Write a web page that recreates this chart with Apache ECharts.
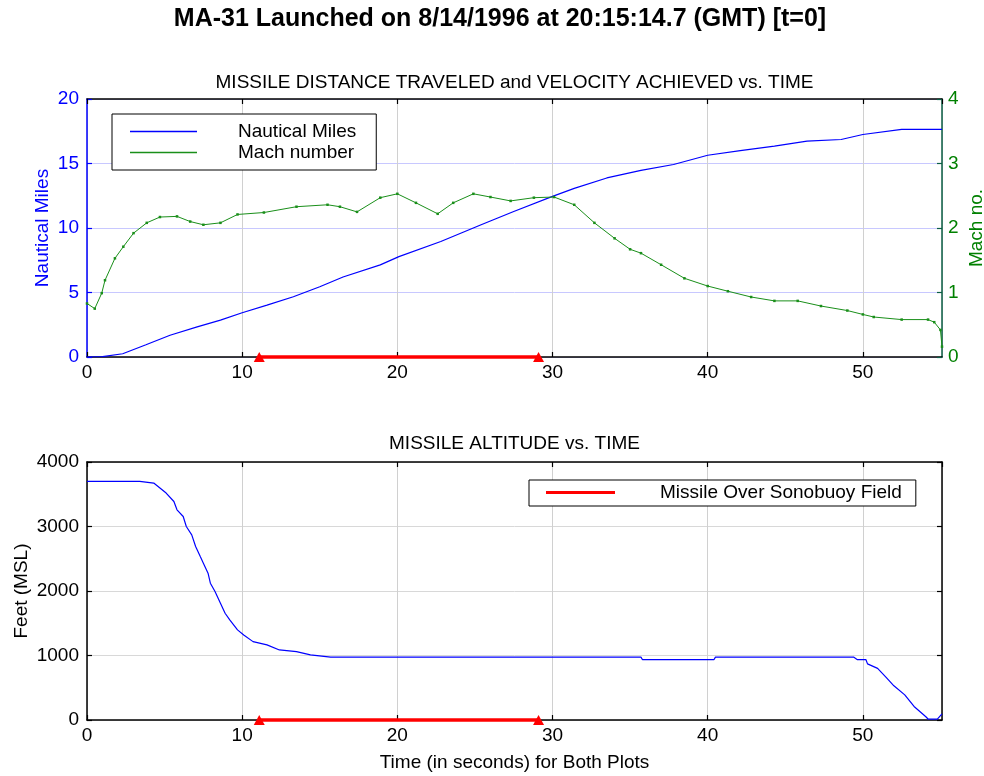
<!DOCTYPE html>
<html>
<head>
<meta charset="utf-8">
<script src="https://cdn.jsdelivr.net/npm/echarts@6/dist/echarts.min.js"></script>
<style>
html,body{margin:0;padding:0;background:#fff;}
#chart{width:984px;height:776px;}
</style>
</head>
<body>
<div id="chart"></div>
<script>
// ---- DATA ----
const mainTitle = 'MA-31 Launched on 8/14/1996 at 20:15:14.7 (GMT) [t=0]';
const topTitle = 'MISSILE DISTANCE TRAVELED and VELOCITY ACHIEVED vs. TIME';
const bottomTitle = 'MISSILE ALTITUDE vs. TIME';

const timeNm = [0, 1.0, 2.3, 3.8, 5.35, 7.1, 8.6, 10.0, 11.6, 13.3, 15.0, 16.5, 18.9, 20.1, 22.8, 25.4, 27.5, 30.0, 31.4, 33.5, 35.7, 37.8, 40.0, 42.1, 44.3, 46.4, 48.6, 50.0, 52.5, 55.1];
const nauticalMiles = [0, 0.03, 0.25, 0.95, 1.69, 2.34, 2.86, 3.43, 4.02, 4.67, 5.45, 6.2, 7.14, 7.78, 8.95, 10.25, 11.28, 12.45, 13.07, 13.88, 14.47, 14.92, 15.64, 16.0, 16.34, 16.73, 16.86, 17.25, 17.64, 17.64];

const timeMach = [0, 0.5, 0.95, 1.16, 1.8, 2.34, 3.0, 3.85, 4.7, 5.8, 6.65, 7.5, 8.6, 9.7, 11.4, 13.5, 15.5, 16.3, 17.4, 18.9, 20.0, 21.2, 22.6, 23.6, 24.9, 26.0, 27.3, 28.8, 30.1, 31.4, 32.7, 34.0, 35.0, 35.7, 37.0, 38.5, 40.0, 41.3, 42.8, 44.3, 45.8, 47.3, 49.0, 50.0, 50.7, 52.5, 54.2, 54.6, 55.0, 55.1];
const machNumber = [0.83, 0.75, 0.99, 1.19, 1.53, 1.71, 1.92, 2.08, 2.17, 2.18, 2.10, 2.05, 2.08, 2.21, 2.24, 2.33, 2.36, 2.33, 2.25, 2.47, 2.53, 2.39, 2.22, 2.39, 2.53, 2.48, 2.42, 2.47, 2.48, 2.36, 2.08, 1.84, 1.67, 1.61, 1.43, 1.22, 1.10, 1.02, 0.93, 0.87, 0.87, 0.79, 0.72, 0.66, 0.62, 0.58, 0.58, 0.54, 0.42, 0.16];

const timeAlt = [0, 3.4, 3.5, 4.3, 4.7, 5.1, 5.6, 5.8, 6.2, 6.4, 6.75, 7.0, 7.3, 7.5, 7.8, 7.95, 8.25, 8.6, 8.9, 9.2, 9.7, 10.1, 10.7, 11.6, 12.4, 13.5, 14.4, 15.7, 35.7, 35.8, 40.4, 40.5, 49.4, 49.65, 50.2, 50.3, 50.95, 51.5, 52.0, 52.7, 53.3, 54.06, 54.2, 54.8, 55.1];
const altitudeFt = [3700, 3700, 3673, 3673, 3596, 3518, 3388, 3259, 3155, 3000, 2871, 2690, 2534, 2431, 2276, 2121, 1991, 1811, 1655, 1552, 1397, 1319, 1215, 1164, 1086, 1060, 1009, 975, 975, 935, 935, 975, 975, 935, 935, 870, 800, 660, 530, 390, 210, 50, 15, 15, 95];

const sonobuoyTime = [11.1, 29.1];
const sonobuoyLevel = [0, 0];

const xTicks = {min: 0, max: 55.1, interval: 10};
const nmTicks = {min: 0, max: 20, interval: 5};
const machTicks = {min: 0, max: 4, interval: 1};
const altTicks = {min: 0, max: 4000, interval: 1000};

// ---- CHART ----
const FONT = '"Liberation Sans", Arial, Helvetica, sans-serif';
const pairs = (xs, ys) => xs.map((x, i) => [x, ys[i]]);
const plain = v => String(v);
const BLUE = '#0000ff', GREEN = '#1a8f1a', GREEN_TXT = '#008000', RED = '#ff0000';

function xAxisBottom(grid, extra) {
  return Object.assign({
    gridIndex: grid, type: 'value', position: 'bottom',
    min: xTicks.min, max: xTicks.max, interval: xTicks.interval,
    axisLine: {onZero: false, lineStyle: {color: '#000', width: 1.5}},
    axisTick: {inside: true, length: 5, lineStyle: {color: '#000', width: 1.2}},
    axisLabel: {color: '#000', fontSize: 19, fontFamily: FONT, margin: 6, showMaxLabel: false, formatter: plain},
    splitLine: {show: true, lineStyle: {color: '#d0d0d0', width: 1}}
  }, extra || {});
}
function xAxisTop(grid) {
  return {
    gridIndex: grid, type: 'value', position: 'top',
    min: xTicks.min, max: xTicks.max, interval: xTicks.interval,
    axisLine: {onZero: false, lineStyle: {color: '#000', width: 1.5}},
    axisTick: {inside: true, length: 5, lineStyle: {color: '#000', width: 1.2}},
    axisLabel: {show: false}, splitLine: {show: false}
  };
}

const option = {
  animation: false,
  backgroundColor: '#fff',
  graphic: [
    {type: 'text', x: 500, y: 19, style: {text: mainTitle, fontSize: 25, fontWeight: 'bold', fontFamily: FONT, fill: '#000', align: 'center', verticalAlign: 'middle'}},
    {type: 'text', x: 514.5, y: 82.5, style: {text: topTitle, fontSize: 19, fontFamily: FONT, fill: '#000', align: 'center', verticalAlign: 'middle'}},
    {type: 'text', x: 514.5, y: 444, style: {text: bottomTitle, fontSize: 19, fontFamily: FONT, fill: '#000', align: 'center', verticalAlign: 'middle'}}
  ],
  grid: [
    {left: 87, top: 99, width: 855, height: 258, containLabel: false, outerBoundsMode: 'none'},
    {left: 87, top: 462, width: 855, height: 258, containLabel: false, outerBoundsMode: 'none'}
  ],
  legend: [
    {
      data: [
        {name: 'Nautical Miles', icon: 'path://M0,0H67V1.3H0Z'},
        {name: 'Mach number', icon: 'path://M0,0H67V1.3H0Z'}
      ],
      orient: 'vertical', left: 112, top: 114, selectedMode: false,
      padding: [8, 20, 8, 18], itemWidth: 67, itemHeight: 19, itemGap: 2,
      borderColor: '#000', borderWidth: 1, backgroundColor: '#fff',
      textStyle: {fontSize: 19, fontFamily: FONT, color: '#000', padding: [0, 0, 0, 36]},
      z: 10
    },
    {
      data: [{name: 'Missile Over Sonobuoy Field', icon: 'path://M0,0H69V3H0Z'}],
      left: 529, top: 480, selectedMode: false,
      padding: [3, 14, 4, 17], itemWidth: 69, itemHeight: 19,
      borderColor: '#000', borderWidth: 1, backgroundColor: '#fff',
      textStyle: {fontSize: 19, fontFamily: FONT, color: '#000', padding: [0, 0, 0, 40]},
      z: 10
    }
  ],
  xAxis: [
    xAxisBottom(0),
    xAxisTop(0),
    xAxisBottom(1, {name: 'Time (in seconds) for Both Plots', nameLocation: 'middle', nameGap: 33,
      nameMoveOverlap: false,
      nameTextStyle: {color: '#000', fontSize: 19, fontFamily: FONT}}),
    xAxisTop(1)
  ],
  yAxis: [
    {
      gridIndex: 0, type: 'value', position: 'left',
      min: nmTicks.min, max: nmTicks.max, interval: nmTicks.interval,
      name: 'Nautical Miles', nameLocation: 'middle', nameGap: 35, nameMoveOverlap: false,
      nameTextStyle: {color: BLUE, fontSize: 19, fontFamily: FONT},
      axisLine: {onZero: false, lineStyle: {color: BLUE, width: 1.5}},
      axisTick: {inside: true, length: 5, lineStyle: {color: BLUE, width: 1.2}},
      axisLabel: {color: BLUE, fontSize: 19, fontFamily: FONT, margin: 8, formatter: plain},
      splitLine: {show: true, lineStyle: {color: '#c8c8ff', width: 1}}
    },
    {
      gridIndex: 0, type: 'value', position: 'right',
      min: machTicks.min, max: machTicks.max, interval: machTicks.interval,
      name: 'Mach no.', nameLocation: 'middle', nameGap: 25, nameMoveOverlap: false,
      nameTextStyle: {color: GREEN_TXT, fontSize: 19, fontFamily: FONT},
      axisLine: {onZero: false, lineStyle: {color: '#0b5e45', width: 1.5}},
      axisTick: {inside: true, length: 5, lineStyle: {color: '#0b5e45', width: 1.2}},
      axisLabel: {color: GREEN_TXT, fontSize: 19, fontFamily: FONT, margin: 6, formatter: plain},
      splitLine: {show: false}
    },
    {
      gridIndex: 1, type: 'value', position: 'left',
      min: altTicks.min, max: altTicks.max, interval: altTicks.interval,
      name: 'Feet (MSL)', nameLocation: 'middle', nameGap: 56, nameMoveOverlap: false,
      nameTextStyle: {color: '#000', fontSize: 19, fontFamily: FONT},
      axisLine: {onZero: false, lineStyle: {color: '#000', width: 1.5}},
      axisTick: {inside: true, length: 5, lineStyle: {color: '#000', width: 1.2}},
      axisLabel: {color: '#000', fontSize: 19, fontFamily: FONT, margin: 8, formatter: plain},
      splitLine: {show: true, lineStyle: {color: '#d8d8d8', width: 1}}
    },
    {
      gridIndex: 1, type: 'value', position: 'right',
      min: altTicks.min, max: altTicks.max, interval: altTicks.interval,
      axisLine: {onZero: false, lineStyle: {color: '#000', width: 1.5}},
      axisTick: {inside: true, length: 5, lineStyle: {color: '#000', width: 1.2}},
      axisLabel: {show: false}, splitLine: {show: false}
    }
  ],
  series: [
    {
      name: 'Nautical Miles', type: 'line', xAxisIndex: 0, yAxisIndex: 0,
      data: pairs(timeNm, nauticalMiles), color: BLUE, symbol: 'none',
      lineStyle: {color: BLUE, width: 1.2}, itemStyle: {color: BLUE}, z: 3
    },
    {
      name: 'Mach number', type: 'line', xAxisIndex: 0, yAxisIndex: 1,
      data: pairs(timeMach, machNumber), color: GREEN,
      symbol: 'rect', symbolSize: 2.5, showSymbol: true,
      lineStyle: {color: GREEN, width: 1}, itemStyle: {color: GREEN}, z: 3
    },
    {
      name: 'Missile Over Sonobuoy Field', type: 'line', xAxisIndex: 0, yAxisIndex: 0,
      data: pairs(sonobuoyTime, sonobuoyLevel), color: RED, clip: false,
      symbol: 'triangle', symbolSize: [11, 10], showSymbol: true,
      lineStyle: {color: RED, width: 3.5}, itemStyle: {color: RED}, z: 6
    },
    {
      name: 'Altitude', type: 'line', xAxisIndex: 2, yAxisIndex: 2,
      data: pairs(timeAlt, altitudeFt), color: BLUE, symbol: 'none',
      lineStyle: {color: BLUE, width: 1.2}, itemStyle: {color: BLUE}, z: 3
    },
    {
      name: 'Missile Over Sonobuoy Field', type: 'line', xAxisIndex: 2, yAxisIndex: 2,
      data: pairs(sonobuoyTime, sonobuoyLevel), color: RED, clip: false,
      symbol: 'triangle', symbolSize: [11, 10], showSymbol: true,
      lineStyle: {color: RED, width: 3.5}, itemStyle: {color: RED}, z: 6
    }
  ]
};

const chart = echarts.init(document.getElementById('chart'), null, {renderer: 'canvas'});
chart.setOption(option);
</script>
</body>
</html>
